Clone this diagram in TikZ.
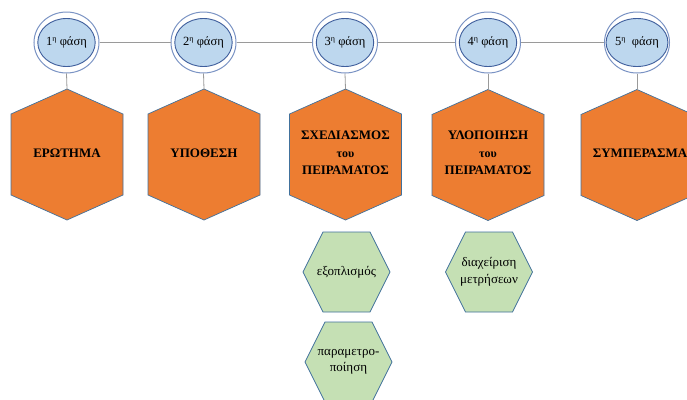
\documentclass[tikz,border=0pt]{standalone}
\usepackage{fontspec}
\setmainfont{Liberation Serif}
\usetikzlibrary{shapes.geometric}
\definecolor{hexorange}{HTML}{ED7D31}
\definecolor{hexgreen}{HTML}{C5E0B4}
\definecolor{hexborder}{HTML}{41719C}
\definecolor{innerblue}{HTML}{BDD7EE}
\definecolor{innerline}{HTML}{3F5E9C}
\definecolor{outerline}{HTML}{7A93C4}
\definecolor{linkgray}{HTML}{9A9A9A}
\tikzset{
  outerring/.style={ellipse,draw=outerline,line width=1pt,fill=white,minimum width=65pt,minimum height=61pt,inner sep=0pt},
  innerdisc/.style={ellipse,draw=innerline,line width=0.9pt,fill=innerblue,minimum width=52pt,minimum height=48pt,inner sep=0pt,font=\fontsize{12.5}{14}\selectfont},
  link/.style={draw=linkgray,line width=0.8pt},
  orangefill/.style={fill=hexorange,draw=hexborder,line width=0.7pt},
  greenfill/.style={fill=hexgreen,draw=hexborder,line width=0.7pt},
  orangetext/.style={align=center,inner sep=0pt,font=\fontsize{13}{17.5}\selectfont\bfseries},
  greentext/.style={align=center,inner sep=0pt,font=\fontsize{13}{16.5}\selectfont},
}
\newcommand\orangehex[4]{%
  \path[orangefill] (#2,#3) ++(0,-66.5) coordinate (#1top) -- ++(56,25) -- ++(0,81) -- ++(-56,25) -- ++(-56,-25) -- ++(0,-81) -- cycle;
  \node[orangetext] (#1) at (#2,153) {#4};}
\newcommand\greenhex[4]{%
  \path[greenfill] (#2,#3) ++(-43.5,0) -- ++(20,-40) -- ++(47,0) -- ++(20,40) -- ++(-20,40) -- ++(-47,0) -- cycle;
  \node[greentext] (#1) at (#2,#3) {#4};}
\newcommand\smalltou{{\fontsize{12}{17.5}\selectfont του}}
\newcommand\sups[1]{\raisebox{0.35em}{\fontsize{8}{9}\selectfont #1}}
\begin{document}
\begin{tikzpicture}[x=1pt,y=-1pt]
\useasboundingbox (0,0) rectangle (687,399);
\clip (0,0) rectangle (687,399);
\fill[white] (0,0) rectangle (687,399);
% rings
\foreach \i/\x in {1/66.5,2/203.5,3/345,4/488,5/637}{
  \node[outerring] (o\i) at (\x,42.5) {};
}
\node[innerdisc] (p1) at (o1) {1\sups{η} φάση};
\node[innerdisc] (p2) at (o2) {2\sups{η} φάση};
\node[innerdisc] (p3) at (o3) {3\sups{η} φάση};
\node[innerdisc] (p4) at (o4) {4\sups{η} φάση};
\node[innerdisc] (p5) at (o5) {5\sups{η}\ \ φάση};
% hexagons
\orangehex{h1}{67}{155.5}{ΕΡΩΤΗΜΑ}
\orangehex{h2}{204}{155.5}{ΥΠΟΘΕΣΗ}
\orangehex{h3}{345.5}{155.5}{ΣΧΕΔΙΑΣΜΟΣ\\\smalltou\\ΠΕΙΡΑΜΑΤΟΣ}
\orangehex{h4}{488}{156}{ΥΛΟΠΟΙΗΣΗ\\\smalltou\\ΠΕΙΡΑΜΑΤΟΣ}
\orangehex{h5}{637}{156}{\hspace*{6pt}ΣΥΜΠΕΡΑΣΜΑ}
\greenhex{g1}{346.5}{272}{εξοπλισμός}
\greenhex{g2}{348.5}{362}{παραμετρο-\\ποίηση}
\greenhex{g3}{489}{272}{διαχείριση\\μετρήσεων}
% connectors
\draw[link] (o1.east) -- (o2.west);
\draw[link] (o2.east) -- (o3.west);
\draw[link] (o3.east) -- (o4.west);
\draw[link] (o4.east) -- (o5.west);
\foreach \i in {1,...,5}{\draw[link] (o\i.south) -- (h\i top);}
\end{tikzpicture}
\end{document}
